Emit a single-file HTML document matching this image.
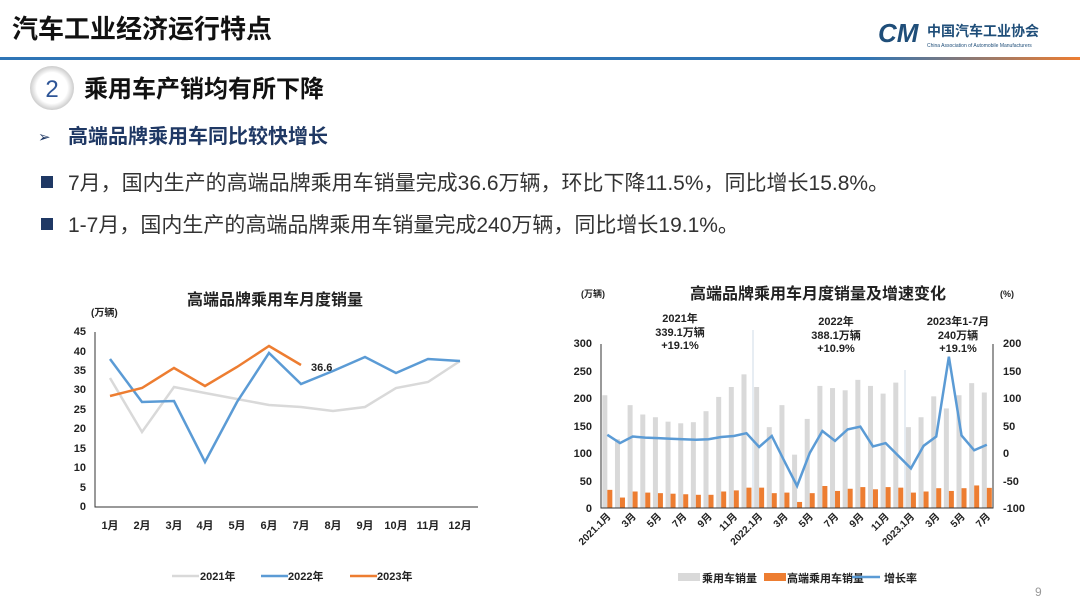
<!DOCTYPE html>
<html><head><meta charset="utf-8"><style>
body{margin:0;width:1080px;height:607px;background:#fff;overflow:hidden;font-family:"Liberation Sans","Noto Sans CJK SC",sans-serif;}
</style></head><body>
<svg width="1080" height="607" viewBox="0 0 1080 607" xmlns="http://www.w3.org/2000/svg" font-family="Liberation Sans, Noto Sans CJK SC, sans-serif">
<defs><linearGradient id="g" x1="0" x2="1"><stop offset="0" stop-color="#2e75b6"/><stop offset="0.8" stop-color="#2e75b6"/><stop offset="1" stop-color="#ed7d31"/></linearGradient>
<radialGradient id="c"><stop offset="0.7" stop-color="#fff"/><stop offset="1" stop-color="#ccc"/></radialGradient></defs>
<text x="12" y="38" font-size="26" font-weight="bold" fill="#111">汽车工业经济运行特点</text>
<text x="878" y="42" font-size="26" font-weight="bold" font-style="italic" fill="#1f4e79">CM</text>
<text x="927" y="36" font-size="14" font-weight="bold" fill="#1f4e79">中国汽车工业协会</text>
<text x="927" y="47" font-size="5" fill="#1f4e79">China Association of Automobile Manufacturers</text>
<rect x="0" y="57" width="1080" height="3" fill="url(#g)"/>
<circle cx="52" cy="88" r="22" fill="url(#c)"/>
<text x="52" y="97" font-size="24" fill="#2e5597" text-anchor="middle">2</text>
<text x="84" y="97" font-size="24" font-weight="bold" fill="#111">乘用车产销均有所下降</text>
<text x="38" y="142" font-size="15" fill="#1f3864">➢</text>
<text x="68" y="143" font-size="20" font-weight="bold" fill="#1f3864">高端品牌乘用车同比较快增长</text>
<rect x="41" y="176" width="12" height="12" fill="#1f3864"/>
<text x="68" y="190" font-size="21" fill="#333">7月，国内生产的高端品牌乘用车销量完成36.6万辆，环比下降11.5%，同比增长15.8%。</text>
<rect x="41" y="218" width="12" height="12" fill="#1f3864"/>
<text x="68" y="232" font-size="21" fill="#333">1-7月，国内生产的高端品牌乘用车销量完成240万辆，同比增长19.1%。</text>
<text x="1035" y="596" font-size="12" fill="#999">9</text>

<!-- left chart -->
<text x="275" y="305" font-size="16" font-weight="bold" fill="#222" text-anchor="middle">高端品牌乘用车月度销量</text>
<text x="91" y="316" font-size="10" font-weight="bold" fill="#222">(万辆)</text>
<g font-size="11" font-weight="bold" fill="#222" text-anchor="end">
<text x="86" y="510">0</text><text x="86" y="491">5</text><text x="86" y="471">10</text><text x="86" y="452">15</text><text x="86" y="432">20</text><text x="86" y="413">25</text><text x="86" y="393">30</text><text x="86" y="374">35</text><text x="86" y="355">40</text><text x="86" y="335">45</text>
</g>
<path d="M95 332V507H478" stroke="#333" stroke-width="1" fill="none"/>
<g font-size="11" font-weight="bold" fill="#222" text-anchor="middle">
<text x="110" y="529">1月</text><text x="142" y="529">2月</text><text x="174" y="529">3月</text><text x="205" y="529">4月</text><text x="237" y="529">5月</text><text x="269" y="529">6月</text><text x="301" y="529">7月</text><text x="333" y="529">8月</text><text x="365" y="529">9月</text><text x="396" y="529">10月</text><text x="428" y="529">11月</text><text x="460" y="529">12月</text>
</g>
<polyline fill="none" stroke="#d9d9d9" stroke-width="2.5" points="110,378 142,432 174,387 205,393 237,399 269,405 301,407 333,411 365,407 396,388 428,382 460,361"/>
<polyline fill="none" stroke="#5b9bd5" stroke-width="2.5" points="110,359 142,402 174,401 205,462 237,402 269,353 301,384 333,371 365,357 396,373 428,359 460,361"/>
<polyline fill="none" stroke="#ed7d31" stroke-width="2.5" points="110,396 142,388 174,368 205,386 237,367 269,346 301,365"/>
<text x="311" y="371" font-size="11" font-weight="bold" fill="#222">36.6</text>
<g font-size="11" font-weight="bold" fill="#222">
<line x1="172" y1="576" x2="199" y2="576" stroke="#d9d9d9" stroke-width="2.5"/><text x="200" y="580">2021年</text>
<line x1="261" y1="576" x2="288" y2="576" stroke="#5b9bd5" stroke-width="2.5"/><text x="288" y="580">2022年</text>
<line x1="350" y1="576" x2="377" y2="576" stroke="#ed7d31" stroke-width="2.5"/><text x="377" y="580">2023年</text>
</g>

<!-- right chart -->
<text x="818" y="299" font-size="16" font-weight="bold" fill="#222" text-anchor="middle">高端品牌乘用车月度销量及增速变化</text>
<text x="581" y="297" font-size="9" font-weight="bold" fill="#222">(万辆)</text>
<text x="1000" y="297" font-size="9" font-weight="bold" fill="#222">(%)</text>
<g font-size="11" font-weight="bold" fill="#222" text-anchor="end">
<text x="592" y="512">0</text><text x="592" y="485">50</text><text x="592" y="457">100</text><text x="592" y="430">150</text><text x="592" y="402">200</text><text x="592" y="375">250</text><text x="592" y="347">300</text>
</g>
<g font-size="11" font-weight="bold" fill="#222">
<text x="1003" y="512">-100</text><text x="1003" y="485">-50</text><text x="1003" y="457">0</text><text x="1003" y="430">50</text><text x="1003" y="402">100</text><text x="1003" y="375">150</text><text x="1003" y="347">200</text>
</g>
<line x1="753" y1="330" x2="753" y2="508" stroke="#bcd" stroke-width="0.7"/>
<line x1="905" y1="370" x2="905" y2="508" stroke="#bcd" stroke-width="0.7"/>
<g id="bars"></g>
<path d="M601 344V508H993V344" stroke="#333" stroke-width="1" fill="none"/>
<g font-size="11" font-weight="bold" fill="#222" text-anchor="middle">
<text x="680" y="322">2021年</text><text x="680" y="336">339.1万辆</text><text x="680" y="349">+19.1%</text>
<text x="836" y="325">2022年</text><text x="836" y="339">388.1万辆</text><text x="836" y="352">+10.9%</text>
<text x="958" y="325">2023年1-7月</text><text x="958" y="339">240万辆</text><text x="958" y="352">+19.1%</text>
</g>
<g id="xl" font-size="10" font-weight="bold" fill="#222" text-anchor="end"></g>
<g font-size="11" font-weight="bold" fill="#222">
<rect x="678" y="573" width="22" height="8" fill="#d9d9d9"/><text x="702" y="582">乘用车销量</text>
<rect x="764" y="573" width="22" height="8" fill="#ed7d31"/><text x="787" y="582">高端乘用车销量</text>
<line x1="852" y1="577" x2="880" y2="577" stroke="#5b9bd5" stroke-width="2.5"/><text x="884" y="582">增长率</text>
</g>
<script>
var ns="http://www.w3.org/2000/svg";
var tot=[205,125,187,170,165,157,154,156,176,202,220,243,220,147,187,97,162,222,218,214,233,222,208,228,147,165,203,181,205,227,210];
var hi=[33,19,30,28,27,26,25,24,24,30,32,37,37,27,28,11,27,40,31,35,38,34,38,37,28,30,36,31,36,41,36.6];
var gr=[33,18,30,28,27,26,25,24,25,29,31,36,11,31,-15,-60,0,40,22,43,48,12,18,-5,-28,13,30,175,32,5,15];
var b=document.getElementById("bars"),pts=[];
for(var i=0;i<31;i++){var cx=601+12.65*(i+0.5);
var r=document.createElementNS(ns,"rect");r.setAttribute("x",cx-5);r.setAttribute("width",5);r.setAttribute("y",508-tot[i]*0.55);r.setAttribute("height",tot[i]*0.55);r.setAttribute("fill","#d9d9d9");b.appendChild(r);
r=document.createElementNS(ns,"rect");r.setAttribute("x",cx);r.setAttribute("width",5);r.setAttribute("y",508-hi[i]*0.55);r.setAttribute("height",hi[i]*0.55);r.setAttribute("fill","#ed7d31");b.appendChild(r);
pts.push(cx+","+(453-gr[i]*0.55));}
var p=document.createElementNS(ns,"polyline");p.setAttribute("points",pts.join(" "));p.setAttribute("fill","none");p.setAttribute("stroke","#5b9bd5");p.setAttribute("stroke-width","2.5");b.appendChild(p);
var labs={0:"2021.1月",2:"3月",4:"5月",6:"7月",8:"9月",10:"11月",12:"2022.1月",14:"3月",16:"5月",18:"7月",20:"9月",22:"11月",24:"2023.1月",26:"3月",28:"5月",30:"7月"};
var xl=document.getElementById("xl");
for(var k in labs){var cx=601+12.65*(+k+0.5)+4;var t=document.createElementNS(ns,"text");t.setAttribute("transform","translate("+cx+",517) rotate(-45)");t.textContent=labs[k];xl.appendChild(t);}
</script>
</svg>
</body></html>
